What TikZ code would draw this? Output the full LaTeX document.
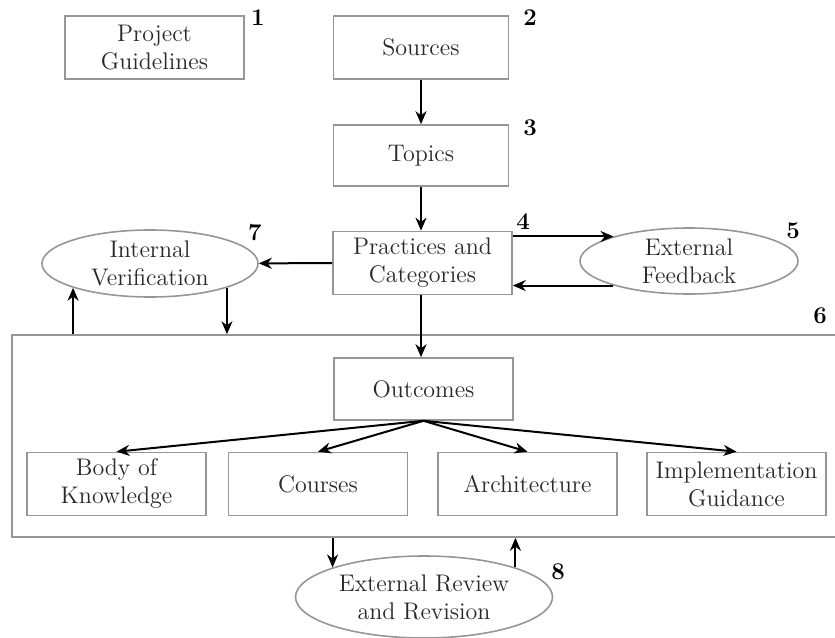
\documentclass[tikz,border=0pt]{standalone}
\usepackage{tikz}
\usetikzlibrary{arrows.meta}
\usetikzlibrary{shapes.geometric}
\definecolor{boxgray}{RGB}{150,150,150}
\definecolor{txtgray}{RGB}{40,40,40}
\begin{document}
\begin{tikzpicture}[x=0.5pt, y=-0.5pt, font=\large, text=txtgray,
    box/.style={draw=boxgray, line width=0.8pt, minimum width=89.5pt, minimum height=31.5pt, inner sep=0pt, align=center},
    oval/.style={ellipse, draw=boxgray, line width=0.8pt, inner sep=0pt, align=center},
    num/.style={font=\large\bfseries, text=black},
    arr/.style={-{Stealth[length=6.5pt, width=5.5pt]}, line width=1pt}]
            \useasboundingbox (0, 0) rectangle (835, 637);
            % frame round the outcomes
            \node [box, minimum width=416.5pt, minimum height=101pt] (frame) at (428.5, 436) {};
            \node [box] (guide) at (154.5, 47.5) {Project\\Guidelines};
            \node [box, minimum width=87.5pt] (src) at (421, 47.5) {Sources};
            \node [box, minimum width=87.5pt, minimum height=30.5pt] (topic) at (421, 155.5) {Topics};
            \node [box] (prac) at (422.5, 263) {Practices and\\Categories};
            \node [oval, minimum width=109pt, minimum height=33pt] (extfb) at (689, 261) {External\\Feedback};
            \node [oval, minimum width=108pt, minimum height=33.5pt] (intver) at (150, 263.5) {Internal\\Verification};
            \node [box, minimum height=31pt] (outc) at (423.5, 389) {Outcomes};
            \node [box] (bok) at (116.5, 484) {Body of\\Knowledge};
            \node [box] (crs) at (318, 484) {Courses};
            \node [box] (arch) at (527.5, 484) {Architecture};
            \node [box] (impl) at (736.5, 484) {Implementation\\Guidance};
            \node [oval, minimum width=128.5pt, minimum height=41pt] (extrev) at (424, 597) {External Review\\and Revision};
            % numbers
            \node [num] (n1) at (258, 18) {1};
            \node [num] (n2) at (530, 18) {2};
            \node [num] (n3) at (530, 128) {3};
            \node [num] (n4) at (523, 222) {4};
            \node [num] (n5) at (793, 231) {5};
            \node [num] (n6) at (820, 316) {6};
            \node [num] (n7) at (255, 233) {7};
            \node [num] (n8) at (558, 572) {8};
            % arrows
            \draw [arr] (src) -- (topic);
            \draw [arr] (topic) -- (topic |- prac.north);
            \draw [arr] (prac.south -| topic) -- (outc.north -| topic);
            \draw [arr] (prac) -- (intver);
            \draw [arr] (prac.east |- extfb.162) -- (extfb.162);
            \draw [arr] (extfb.198) -- (prac.east |- extfb.198);
            \foreach \k in {bok, crs, arch, impl}
                \draw [arr] (outc.south) -- (\k.north);
            \draw [arr] (frame.north -| intver.south west) -- (intver.south west);
            \draw [arr] (intver.south east) -- (frame.north -| intver.south east);
            \draw [arr] (frame.south -| extrev.north west) -- (extrev.north west);
            \draw [arr] (extrev.north east) -- (frame.south -| extrev.north east);
        \end{tikzpicture}
\end{document}
